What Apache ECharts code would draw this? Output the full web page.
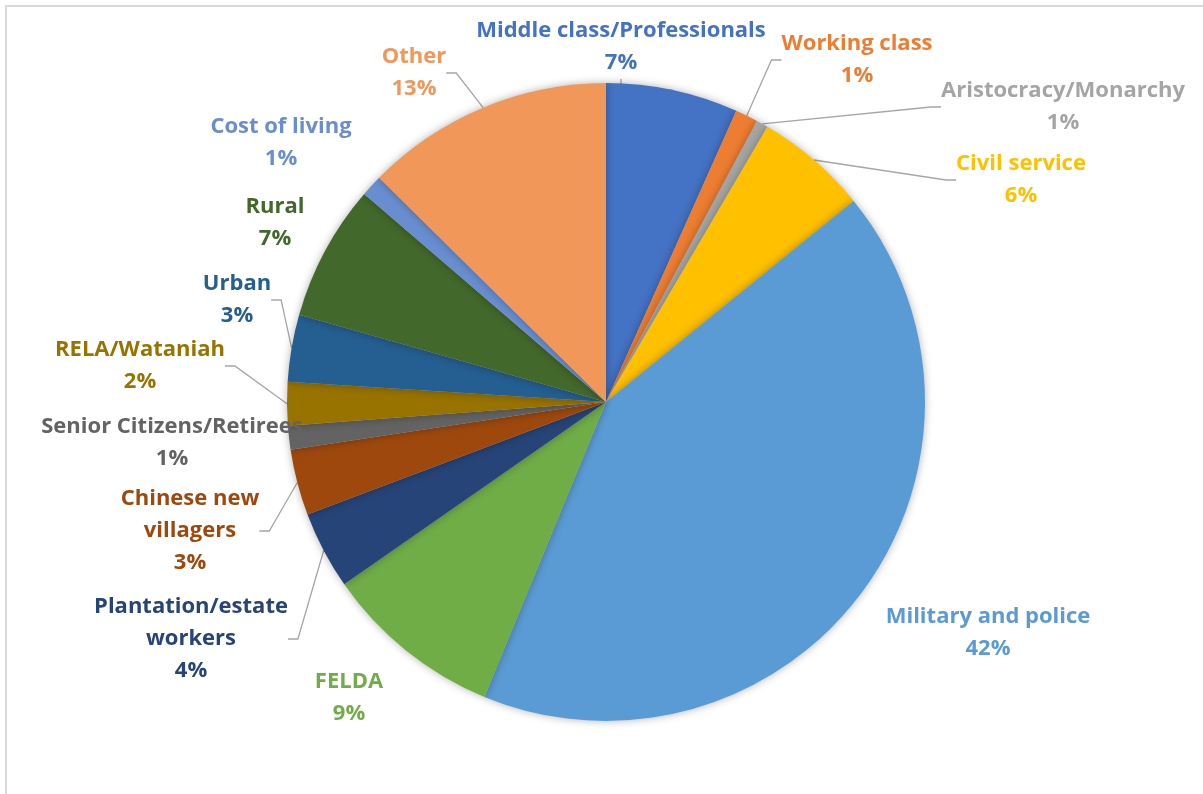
<!DOCTYPE html>
<html>
<head>
<meta charset="utf-8">
<script src="https://cdn.jsdelivr.net/npm/echarts@6/dist/echarts.min.js"></script>
<style>
  html, body { margin: 0; padding: 0; background: #fff; }
  #frame { position: absolute; left: 5px; top: 5px; width: 1300px; height: 900px;
           border-left: 2px solid #d9d9d9; border-top: 2px solid #d9d9d9; }
  #chart { position: absolute; left: 0; top: 0; width: 1203px; height: 794px; }
</style>
</head>
<body>
<div id="frame"></div>
<div id="chart"></div>
<script>
// categories, clockwise from 12 o'clock
const categories = [
  'Middle class/Professionals', 'Working class', 'Aristocracy/Monarchy', 'Civil service',
  'Military and police', 'FELDA', 'Plantation/estate\nworkers', 'Chinese new\nvillagers',
  'Senior Citizens/Retirees', 'RELA/Wataniah', 'Urban', 'Rural', 'Cost of living', 'Other'
]
// share of each group (%)
const shares = [6.7, 1.15, 0.6, 5.7, 42.1, 9.1, 3.95, 3.35, 1.2, 2.2, 3.4, 6.9, 1.1, 12.6]

const colors = [
  '#4472C4', '#ED7D31', '#A5A5A5', '#FFC000', '#5B9BD5', '#70AD47', '#264478',
  '#9E480E', '#636363', '#997300', '#255E91', '#43682B', '#698ED0', '#F1975A'
]
// label centres (layout only) and whether the leader line is drawn
const labelPos = [
  [621, 47], [857, 60], [1063, 107], [1021, 180], [988, 633], [349, 698], [191, 639],
  [190, 531], [172, 443], [140, 366], [237, 300], [275, 223], [281, 143], [414, 73]
]
const guide = [true, true, true, true, false, false, true, true, true, true, true, false, false, true]

let myChart = echarts.init(document.getElementById('chart'))

let option = {
  animation: false,
  series: [
    {
      type: 'pie',
      center: [606, 402],
      radius: 319,
      startAngle: 90,
      clockwise: true,
      avoidLabelOverlap: false,
      data: categories.map((name, i) => ({
        name: name,
        value: shares[i],
        itemStyle: { color: colors[i] },
        label: { color: colors[i] },
        labelLine: { show: guide[i] }
      })),
      itemStyle: {
        shadowBlur: 8,
        shadowColor: 'rgba(0,0,0,0.3)'
      },
      label: {
        show: true,
        fontFamily: 'Open Sans',
        fontWeight: 'bold',
        fontSize: 22,
        lineHeight: 32,
        align: 'center',
        formatter: p => p.name + '\n' + Math.round(p.percent) + '%'
      },
      labelLine: {
        lineStyle: { color: '#A6A6A6', width: 1.3 },
        length: 10,
        length2: 10
      },
      labelLayout: p => ({
        x: labelPos[p.dataIndex][0],
        y: labelPos[p.dataIndex][1],
        align: 'center',
        verticalAlign: 'middle'
      })
    }
  ]
}
myChart.setOption(option)
</script>
</body>
</html>
